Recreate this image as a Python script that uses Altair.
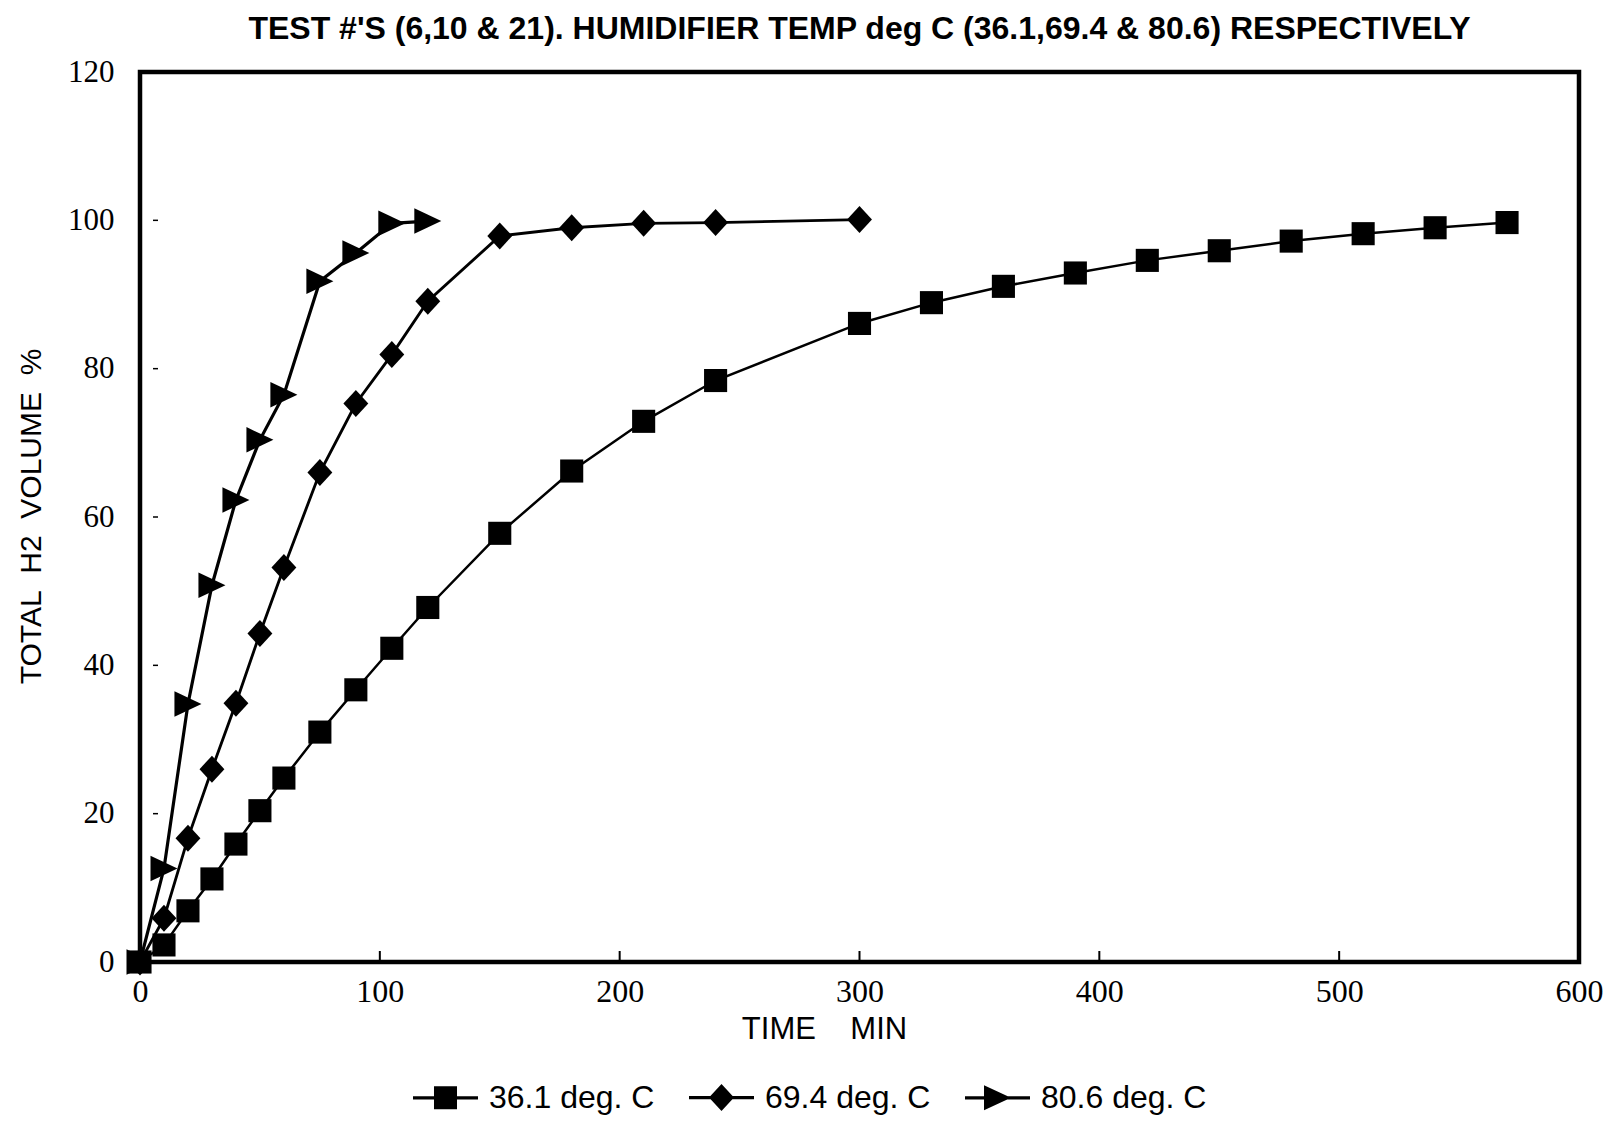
import altair as alt
import pandas as pd

series_names = ["36.1 deg. C", "69.4 deg. C", "80.6 deg. C"]

t_361 = [0, 10, 20, 30, 40, 50, 60, 75, 90, 105, 120, 150, 180, 210, 240, 300,
         330, 360, 390, 420, 450, 480, 510, 540, 570]
v_361 = [0, 2.3, 6.9, 11.2, 15.9, 20.4, 24.8, 31.0, 36.7, 42.3, 47.8, 57.8, 66.2,
         72.9, 78.4, 86.1, 88.9, 91.1, 92.9, 94.6, 95.9, 97.2, 98.2, 99.0, 99.7]

t_694 = [0, 10, 20, 30, 40, 50, 60, 75, 90, 105, 120, 150, 180, 210, 240, 300]
v_694 = [0, 5.9, 16.7, 26.0, 34.9, 44.3, 53.2, 66.0, 75.3, 81.9, 89.1, 97.9,
         99.0, 99.6, 99.7, 100.1]

t_806 = [0, 10, 20, 30, 40, 50, 60, 75, 90, 105, 120]
v_806 = [0, 12.6, 34.8, 50.8, 62.3, 70.4, 76.5, 91.8, 95.6, 99.6, 99.9]

x_ticks = [0, 100, 200, 300, 400, 500, 600]
y_ticks = [0, 20, 40, 60, 80, 100, 120]
x_inner_ticks = [100, 200, 300, 400, 500]
y_inner_ticks = [20, 40, 60, 80, 100]

title_text = "TEST #'S (6,10 & 21).  HUMIDIFIER TEMP deg C (36.1,69.4 & 80.6) RESPECTIVELY"

rows = []
for name, ts, vs in zip(series_names, [t_361, t_694, t_806], [v_361, v_694, v_806]):
    for t, v in zip(ts, vs):
        rows.append({"series": name, "time": t, "vol": v})
df = pd.DataFrame(rows)

xt_df = pd.DataFrame({"t": x_inner_ticks})
yt_df = pd.DataFrame({"v": y_inner_ticks})

SANS = "Liberation Sans, Arial, sans-serif"
SERIF = "Liberation Serif, Times New Roman, serif"

marker_paths = [
    "M-0.77,-0.77H0.77V0.77H-0.77Z",
    "M0,-0.9L0.83,0L0,0.9L-0.83,0Z",
    "M-0.9,-0.85L0.9,0L-0.9,0.85Z",
]
legend_paths = [
    "M-1,-0.05H1V0.05H-1Z M-0.354,-0.354H0.354V0.354H-0.354Z",
    "M-1,-0.05H1V0.05H-1Z M0,-0.415L0.385,0L0,0.415L-0.385,0Z",
    "M-1,-0.05H1V0.05H-1Z M-0.415,-0.385L0.415,0L-0.415,0.385Z",
]

W, H = 1439, 890

x_scale = alt.Scale(domain=[0, 600], nice=False, zero=False)
y_scale = alt.Scale(domain=[0, 120], nice=False, zero=False)

x_axis = alt.Axis(
    values=x_ticks, format="d", domain=False, ticks=False, grid=False,
    labelFont=SERIF, labelFontSize=32, labelColor="black", labelPadding=14,
    title="TIME\u00a0\u00a0\u00a0\u00a0MIN", titleFont=SANS,
    titleFontSize=31, titleFontWeight="normal", titleColor="black",
    titleX=684, titleY=67, titleAlign="center", titleBaseline="middle",
    labelFlush=False, labelOverlap=False,
)
y_axis = alt.Axis(
    values=y_ticks, format="d", domain=False, ticks=False, grid=False,
    labelFont=SERIF, labelFontSize=31, labelColor="black", labelPadding=26,
    title="TOTAL\u00a0\u00a0H2\u00a0\u00a0VOLUME\u00a0\u00a0%",
    titleFont=SANS, titleFontSize=30,
    titleFontWeight="normal", titleColor="black",
    titleAngle=270, titleX=-109, titleY=444, titleAlign="center", titleBaseline="middle",
    labelFlush=False, labelOverlap=False,
)

base = alt.Chart(df)

lines = base.mark_line(color="black").encode(
    x=alt.X("time:Q", scale=x_scale, axis=x_axis),
    y=alt.Y("vol:Q", scale=y_scale, axis=y_axis),
    detail="series:N",
    strokeWidth=alt.StrokeWidth("series:N", legend=None,
                                scale=alt.Scale(domain=series_names, range=[2.5, 3.2, 4.2])),
)

points = base.mark_point(filled=True, color="black", opacity=1, size=900).encode(
    x=alt.X("time:Q", scale=x_scale),
    y=alt.Y("vol:Q", scale=y_scale),
    shape=alt.Shape("series:N", legend=None,
                    scale=alt.Scale(domain=series_names, range=marker_paths)),
)

legend_layer = base.transform_filter("false").mark_point(
    filled=True, color="black", opacity=1
).encode(
    x=alt.X("time:Q", scale=x_scale),
    y=alt.Y("vol:Q", scale=y_scale),
    shape=alt.Shape(
        "series:N",
        scale=alt.Scale(domain=series_names, range=legend_paths),
        legend=alt.Legend(
            title=None, orient="none", legendX=272, legendY=992,
            direction="horizontal", columns=3, columnPadding=31,
            symbolSize=4225, symbolFillColor="black", symbolOpacity=1,
            labelOffset=10, labelFont=SANS, labelFontSize=32,
            labelColor="black", labelLimit=400,
        ),
    ),
)

xt_rules = alt.Chart(xt_df).mark_rule(color="black", strokeWidth=2).encode(
    x=alt.X("t:Q", scale=x_scale),
    y=alt.value(H),
    y2=alt.value(H - 11),
)
yt_rules = alt.Chart(yt_df).mark_rule(color="black", strokeWidth=1.5).encode(
    y=alt.Y("v:Q", scale=y_scale),
    x=alt.value(13),
    x2=alt.value(18),
)

chart = alt.layer(xt_rules, yt_rules, lines, points, legend_layer).resolve_scale(
    shape="independent"
).properties(
    width=W, height=H,
    title=alt.Title(title_text, font=SANS, fontSize=32, fontWeight="bold",
                    color="black", anchor="middle", offset=10),
    autosize=alt.AutoSizeParams(type="none"),
    padding={"left": 132, "top": 64, "right": 30, "bottom": 158},
    background="white",
).configure_view(
    stroke="black", strokeWidth=4.5
)

chart.save("out.html", embed_options={"renderer": "svg", "actions": False})
